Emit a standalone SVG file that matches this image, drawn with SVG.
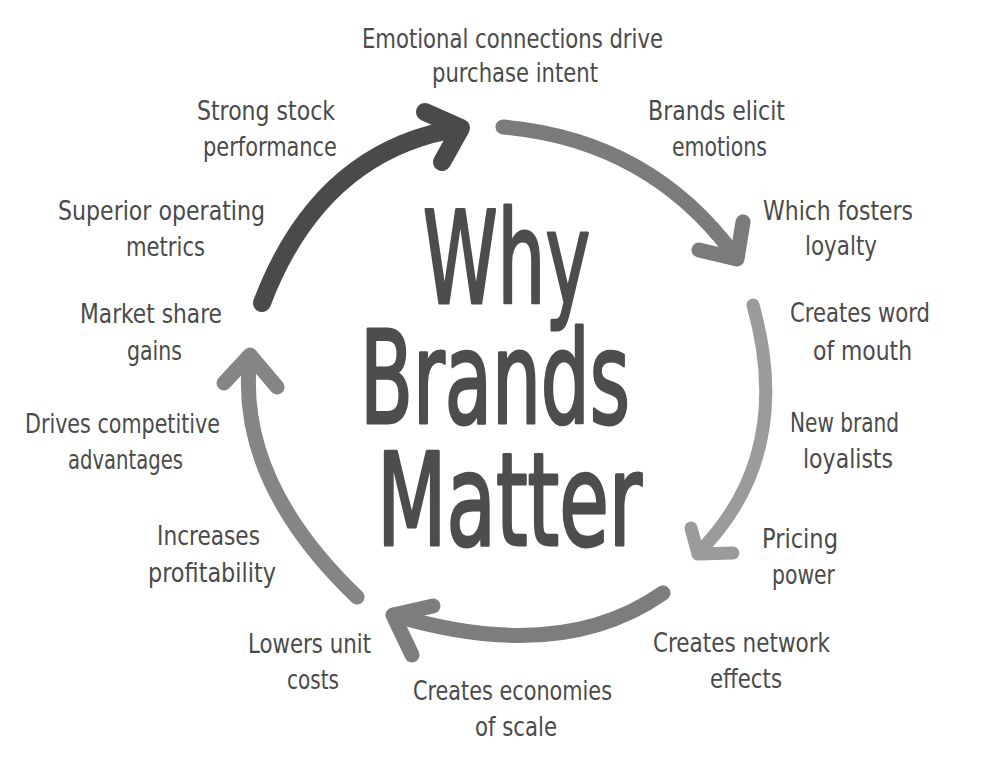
<svg xmlns="http://www.w3.org/2000/svg" width="1000" height="764" viewBox="0 0 1000 764">
<style>
.lbl{font-family:"DejaVu Sans Condensed","DejaVu Sans",sans-serif;font-size:27px;fill:#4a4a4a;text-anchor:start}
.title{font-family:"DejaVu Sans Condensed","DejaVu Sans",sans-serif;font-size:128px;fill:#4d4d4d;stroke:#4d4d4d;stroke-width:3;stroke-linejoin:round}
.arr{fill:none;stroke-linecap:round;stroke-linejoin:round}
</style>
<rect width="1000" height="764" fill="#ffffff"/>
<g id="connectors">
  <g id="arrow1" class="arr" stroke="#4a4a4a" stroke-width="18">
    <path d="M262,303 Q320,150 460,128"/>
    <polyline points="425,112 461,128 442,162"/>
  </g>
  <g id="arrow2" class="arr" stroke="#7b7b7b" stroke-width="15">
    <path d="M503,127 Q650,140 735,256"/>
    <polyline points="743,222 737,259 699,250"/>
  </g>
  <g id="arrow3" class="arr" stroke="#9b9b9b" stroke-width="13">
    <path d="M753,305 Q795,455 699,552"/>
    <polyline points="691,528 698,554 733,553"/>
  </g>
  <g id="arrow4" class="arr" stroke="#7d7d7d" stroke-width="15">
    <path d="M663,593 Q560,665 394,615"/>
    <polyline points="433,606 393,615 412,655"/>
  </g>
  <g id="arrow5" class="arr" stroke="#858585" stroke-width="15">
    <path d="M357,597 Q235,480 250,356"/>
    <polyline points="224,383 250,355 277,387"/>
  </g>
</g>
<g id="title">
  <text class="title"><tspan x="423" y="303" textLength="167" lengthAdjust="spacingAndGlyphs">Why</tspan><tspan x="360" y="423" textLength="270" lengthAdjust="spacingAndGlyphs">Brands</tspan><tspan x="377" y="545" textLength="265" lengthAdjust="spacingAndGlyphs">Matter</tspan></text>
</g>
<g id="n-emotional">
  <text class="lbl" x="362" y="48" textLength="301" lengthAdjust="spacingAndGlyphs">Emotional connections drive</text>
  <text class="lbl" x="432" y="82" textLength="166" lengthAdjust="spacingAndGlyphs">purchase intent</text>
</g>
<g id="n-brands-elicit">
  <text class="lbl" x="648" y="120" textLength="137" lengthAdjust="spacingAndGlyphs">Brands elicit</text>
  <text class="lbl" x="672" y="156" textLength="95" lengthAdjust="spacingAndGlyphs">emotions</text>
</g>
<g id="n-fosters">
  <text class="lbl" x="763" y="220" textLength="150" lengthAdjust="spacingAndGlyphs">Which fosters</text>
  <text class="lbl" x="805" y="255" textLength="72" lengthAdjust="spacingAndGlyphs">loyalty</text>
</g>
<g id="n-word">
  <text class="lbl" x="790" y="322" textLength="140" lengthAdjust="spacingAndGlyphs">Creates word</text>
  <text class="lbl" x="813" y="360" textLength="99" lengthAdjust="spacingAndGlyphs">of mouth</text>
</g>
<g id="n-loyalists">
  <text class="lbl" x="790" y="432" textLength="109" lengthAdjust="spacingAndGlyphs">New brand</text>
  <text class="lbl" x="803" y="468" textLength="90" lengthAdjust="spacingAndGlyphs">loyalists</text>
</g>
<g id="n-pricing">
  <text class="lbl" x="762" y="548" textLength="76" lengthAdjust="spacingAndGlyphs">Pricing</text>
  <text class="lbl" x="772" y="584" textLength="63" lengthAdjust="spacingAndGlyphs">power</text>
</g>
<g id="n-network">
  <text class="lbl" x="653" y="652" textLength="177" lengthAdjust="spacingAndGlyphs">Creates network</text>
  <text class="lbl" x="710" y="688" textLength="72" lengthAdjust="spacingAndGlyphs">effects</text>
</g>
<g id="n-economies">
  <text class="lbl" x="413" y="700" textLength="199" lengthAdjust="spacingAndGlyphs">Creates economies</text>
  <text class="lbl" x="475" y="736" textLength="82" lengthAdjust="spacingAndGlyphs">of scale</text>
</g>
<g id="n-lowers">
  <text class="lbl" x="248" y="653" textLength="123" lengthAdjust="spacingAndGlyphs">Lowers unit</text>
  <text class="lbl" x="287" y="689" textLength="52" lengthAdjust="spacingAndGlyphs">costs</text>
</g>
<g id="n-profitability">
  <text class="lbl" x="157" y="545" textLength="103" lengthAdjust="spacingAndGlyphs">Increases</text>
  <text class="lbl" x="148" y="582" textLength="128" lengthAdjust="spacingAndGlyphs">profitability</text>
</g>
<g id="n-competitive">
  <text class="lbl" x="25" y="433" textLength="195" lengthAdjust="spacingAndGlyphs">Drives competitive</text>
  <text class="lbl" x="68" y="469" textLength="115" lengthAdjust="spacingAndGlyphs">advantages</text>
</g>
<g id="n-market">
  <text class="lbl" x="80" y="323" textLength="142" lengthAdjust="spacingAndGlyphs">Market share</text>
  <text class="lbl" x="127" y="360" textLength="55" lengthAdjust="spacingAndGlyphs">gains</text>
</g>
<g id="n-operating">
  <text class="lbl" x="58" y="220" textLength="207" lengthAdjust="spacingAndGlyphs">Superior operating</text>
  <text class="lbl" x="126" y="256" textLength="79" lengthAdjust="spacingAndGlyphs">metrics</text>
</g>
<g id="n-stock">
  <text class="lbl" x="197" y="120" textLength="138" lengthAdjust="spacingAndGlyphs">Strong stock</text>
  <text class="lbl" x="203" y="156" textLength="134" lengthAdjust="spacingAndGlyphs">performance</text>
</g>
</svg>
